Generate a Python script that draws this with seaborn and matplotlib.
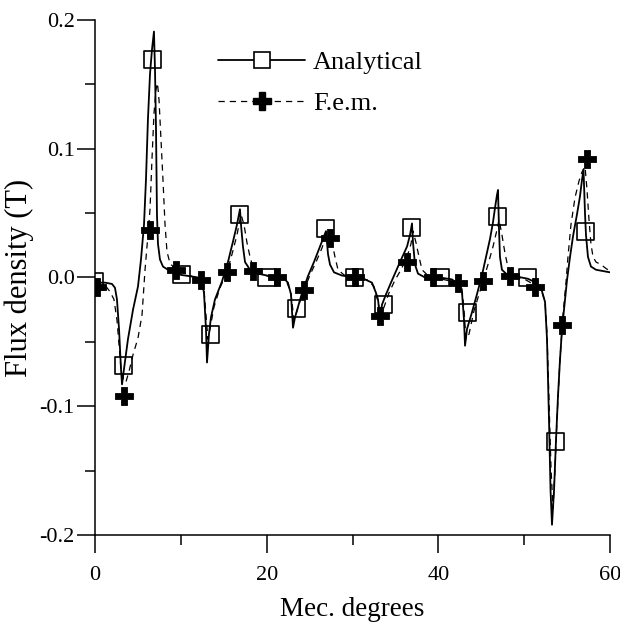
import matplotlib
matplotlib.use("Agg")
import matplotlib.pyplot as plt
from matplotlib.lines import Line2D
import seaborn as sns
import pandas as pd

# Analytical flux density (T) versus mechanical angle (degrees)
analytical_deg = [
    0.0, 1.17, 1.98, 2.33, 2.56, 2.80, 3.03, 3.15, 3.38, 3.84,
    4.43, 5.01, 5.36, 5.71, 5.94, 6.17, 6.41, 6.64, 6.87, 6.99,
    7.11, 7.22, 7.34, 7.57, 7.92, 8.50, 9.32, 10.02, 11.07, 12.00,
    12.47, 12.70, 12.93, 13.05, 13.28, 13.51, 13.98, 14.80, 15.49, 16.08,
    16.54, 16.89, 17.01, 17.24, 17.48, 18.06, 18.99, 20.39, 21.90, 22.48,
    22.83, 23.07, 23.30, 23.65, 24.12, 24.81, 25.51, 26.10, 26.56, 26.91,
    27.15, 27.38, 27.85, 28.78, 30.29, 31.46, 32.27, 32.74, 32.97, 33.20,
    33.44, 33.91, 34.48, 35.07, 35.53, 36.35, 36.70, 36.93, 37.05, 37.28,
    37.63, 38.45, 40.19, 41.59, 42.29, 42.76, 42.99, 43.11, 43.34, 43.92,
    44.50, 45.09, 45.55, 46.02, 46.37, 46.60, 46.83, 46.95, 47.07, 47.18,
    47.41, 47.88, 48.93, 50.44, 51.38, 51.96, 52.43, 52.66, 52.89, 53.07,
    53.24, 53.48, 53.71, 53.94, 54.17, 54.41, 54.76, 54.99, 55.34, 55.69,
    56.15, 56.50, 56.74, 56.91, 57.09, 57.20, 57.43, 57.78, 58.37, 59.18,
    60.00,
]
analytical_b = [
    -0.004, -0.004, -0.005, -0.008, -0.017, -0.040, -0.071, -0.083, -0.071, -0.048,
    -0.025, -0.007, 0.014, 0.041, 0.076, 0.123, 0.158, 0.177, 0.191, 0.162,
    0.115, 0.049, 0.026, 0.014, 0.0085, 0.006, 0.004, 0.002, 0.001, 0.0,
    -0.004, -0.012, -0.040, -0.066, -0.044, -0.031, -0.017, -0.003, 0.012, 0.028,
    0.041, 0.053, 0.041, 0.024, 0.012, 0.006, 0.003, 0.001, 0.0, -0.004,
    -0.013, -0.039, -0.031, -0.023, -0.012, 0.001, 0.012, 0.022, 0.030, 0.036,
    0.018, 0.010, 0.004, 0.0015, 0.0, -0.0015, -0.004, -0.012, -0.017, -0.031,
    -0.021, -0.013, -0.004, 0.005, 0.012, 0.024, 0.033, 0.042, 0.027, 0.010,
    0.003, 0.0, 0.0, -0.0015, -0.005, -0.012, -0.033, -0.053, -0.040, -0.027,
    -0.013, 0.002, 0.016, 0.030, 0.043, 0.054, 0.064, 0.068, 0.037, 0.016,
    0.006, 0.003, 0.001, -0.001, -0.004, -0.008, -0.019, -0.048, -0.110, -0.165,
    -0.192, -0.165, -0.126, -0.092, -0.064, -0.040, -0.017, -0.002, 0.016, 0.032,
    0.049, 0.063, 0.076, 0.084, 0.049, 0.033, 0.016, 0.0085, 0.006, 0.005,
    0.004,
]

# Finite-element flux density (T) versus mechanical angle (degrees)
fem_deg = [
    0.0, 0.58, 1.17, 1.75, 2.21, 2.56, 2.80, 3.03, 3.38, 3.61,
    3.96, 4.43, 5.01, 5.48, 5.83, 6.17, 6.41, 6.64, 6.87, 7.11,
    7.28, 7.46, 7.69, 7.92, 8.16, 8.39, 8.74, 9.44, 10.49, 11.65,
    12.35, 12.70, 12.93, 13.16, 13.40, 13.86, 14.56, 15.38, 15.96, 16.54,
    17.01, 17.36, 17.71, 18.06, 18.41, 18.99, 20.15, 21.55, 22.37, 22.83,
    23.18, 23.53, 24.00, 24.47, 25.05, 25.75, 26.45, 27.03, 27.27, 27.62,
    27.96, 28.31, 29.01, 30.29, 31.80, 32.50, 32.97, 33.32, 33.67, 34.25,
    34.95, 35.65, 36.35, 36.81, 37.05, 37.40, 37.75, 38.10, 38.79, 40.19,
    42.29, 42.76, 42.99, 43.22, 43.57, 44.15, 44.74, 45.20, 45.78, 46.37,
    46.83, 47.07, 47.41, 47.76, 48.11, 48.58, 50.10, 51.26, 51.96, 52.43,
    52.66, 52.89, 53.13, 53.36, 53.59, 53.82, 54.17, 54.52, 54.87, 55.10,
    55.45, 55.92, 56.39, 56.74, 57.09, 57.32, 57.55, 57.78, 58.02, 58.37,
    58.95, 59.53, 60.00,
]
fem_b = [
    -0.005, -0.005, -0.006, -0.011, -0.017, -0.033, -0.052, -0.071, -0.081, -0.081,
    -0.073, -0.060, -0.047, -0.029, 0.006, 0.033, 0.053, 0.092, 0.127, 0.146,
    0.151, 0.138, 0.107, 0.076, 0.041, 0.020, 0.011, 0.006, 0.003, 0.0,
    -0.003, -0.009, -0.029, -0.048, -0.040, -0.023, -0.008, 0.004, 0.018, 0.033,
    0.049, 0.041, 0.027, 0.016, 0.008, 0.004, 0.001, -0.001, -0.004, -0.012,
    -0.033, -0.026, -0.016, -0.008, 0.002, 0.012, 0.023, 0.035, 0.037, 0.027,
    0.016, 0.006, 0.002, 0.0, -0.002, -0.007, -0.019, -0.031, -0.023, -0.012,
    -0.002, 0.006, 0.016, 0.026, 0.036, 0.027, 0.016, 0.006, 0.0015, -0.001,
    -0.004, -0.009, -0.025, -0.048, -0.044, -0.026, -0.013, -0.003, 0.010, 0.024,
    0.037, 0.045, 0.033, 0.019, 0.008, 0.0015, -0.0015, -0.006, -0.009, -0.019,
    -0.044, -0.095, -0.149, -0.179, -0.149, -0.110, -0.064, -0.029, -0.004, 0.016,
    0.041, 0.062, 0.075, 0.082, 0.086, 0.068, 0.045, 0.026, 0.016, 0.012,
    0.010, 0.007, 0.005,
]

# Sample points marked along each series
analytical_mark_deg = [0.0, 3.3, 6.72, 10.1, 13.4, 16.8, 20.0, 23.5, 26.8, 30.2,
                       33.6, 36.9, 40.2, 43.4, 46.9, 50.4, 53.7, 57.1]
analytical_mark_b = [-0.003, -0.068, 0.169, 0.002, -0.044, 0.049, 0.0, -0.024, 0.038, 0.0,
                     -0.021, 0.039, 0.0, -0.027, 0.047, 0.0, -0.127, 0.036]
fem_mark_deg = [0.23, 3.38, 6.4, 9.4, 12.3, 15.4, 18.4, 21.2, 24.3, 27.4,
                30.3, 33.2, 36.3, 39.4, 42.3, 45.2, 48.3, 51.3, 54.4, 57.3]
fem_mark_b = [-0.007, -0.092, 0.037, 0.006, -0.002, 0.004, 0.005, 0.0, -0.01, 0.031,
              0.0, -0.03, 0.012, 0.0, -0.004, -0.003, 0.001, -0.007, -0.037, 0.092]

series_labels = ["Analytical", "F.e.m."]
x_ticks = [0, 20, 40, 60]
x_minor = [10, 30, 50]
y_ticks = [-0.2, -0.1, 0.0, 0.1, 0.2]
y_tick_labels = ["-0.2", "-0.1", "0.0", "0.1", "0.2"]
y_minor = [-0.15, -0.05, 0.05, 0.15]

sns.set_style("ticks")
plt.rcParams["font.family"] = ["Liberation Serif", "DejaVu Serif"]
plt.rcParams["axes.unicode_minus"] = False
plt.rcParams["text.color"] = "black"
plt.rcParams["axes.labelcolor"] = "black"
plt.rcParams["xtick.color"] = "black"
plt.rcParams["ytick.color"] = "black"
plt.rcParams["axes.edgecolor"] = "black"

fig = plt.figure(figsize=(6.2, 6.24), dpi=100)
ax = fig.add_axes([0.1532, 0.1426, 0.8307, 0.8254])

df_an = pd.DataFrame({"deg": analytical_deg, "B": analytical_b})
df_fe = pd.DataFrame({"deg": fem_deg, "B": fem_b})

sns.lineplot(data=df_an, x="deg", y="B", ax=ax, color="black", lw=1.3,
             estimator=None, sort=False)
sns.lineplot(data=df_fe, x="deg", y="B", ax=ax, color="black", lw=0.9,
             estimator=None, sort=False, linestyle=(0, (5, 4)))

sns.scatterplot(x=analytical_mark_deg, y=analytical_mark_b, ax=ax, marker="s",
                s=150, facecolor="none", edgecolor="black", linewidth=1.2,
                zorder=4)
sns.scatterplot(x=fem_mark_deg, y=fem_mark_b, ax=ax, marker="P",
                s=160, color="black", edgecolor="black", linewidth=0.6,
                zorder=5)

ax.set_xlim(0, 60)
ax.set_ylim(-0.2, 0.2)
ax.set_xticks(x_ticks)
ax.set_xticks(x_minor, minor=True)
ax.set_yticks(y_ticks)
ax.set_yticklabels(y_tick_labels)
ax.set_yticks(y_minor, minor=True)

ax.tick_params(which="major", direction="out", length=13, width=1.1,
               labelsize=16, color="black", labelcolor="black")
ax.tick_params(which="minor", direction="out", length=7, width=1.1,
               color="black")
ax.tick_params(axis="x", which="major", pad=9)
ax.tick_params(axis="y", which="major", pad=1.5)

for side in ("left", "bottom"):
    ax.spines[side].set_linewidth(1.1)
    ax.spines[side].set_color("black")
sns.despine(ax=ax)

ax.set_xlabel("Mec. degrees", fontsize=19.5, labelpad=9, color="black")
ax.set_ylabel("Flux density (T)", fontsize=22, labelpad=4, color="black")

handles = [
    Line2D([], [], color="black", lw=1.3, marker="s", markersize=12,
           markerfacecolor="white", markeredgecolor="black", markeredgewidth=1.2),
    Line2D([], [], color="black", lw=0.9, linestyle=(0, (5, 4)), marker="P",
           markersize=12.5, markerfacecolor="black", markeredgecolor="black"),
]
leg = ax.legend(handles, series_labels, loc="upper left",
                bbox_to_anchor=(0.239, 0.940), frameon=False, fontsize=19,
                handlelength=3.3, handletextpad=0.3, labelspacing=0.65,
                borderpad=0, borderaxespad=0)
for t in leg.get_texts():
    t.set_color("black")

fig.savefig("out.png", dpi=100, facecolor="white")
